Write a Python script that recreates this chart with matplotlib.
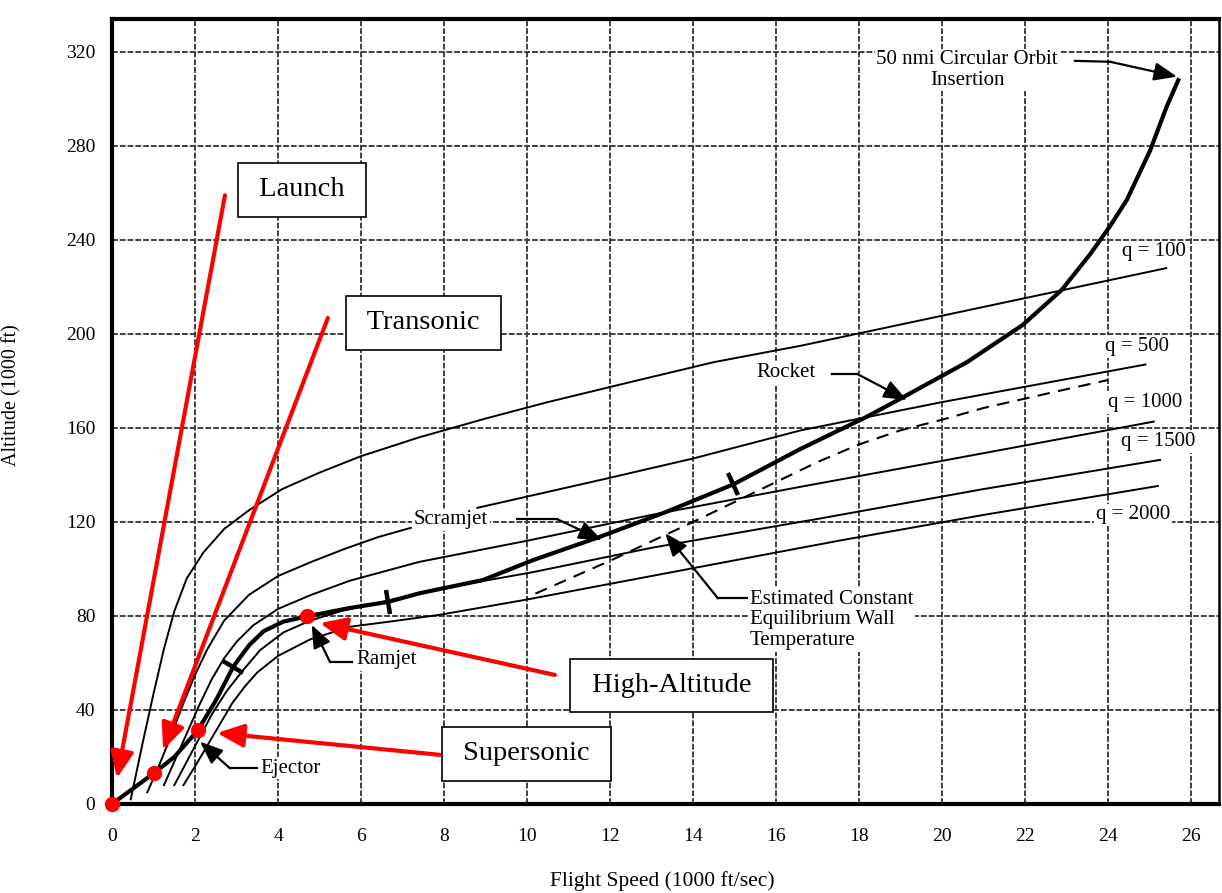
import numpy as np
import matplotlib
matplotlib.use("Agg")
import matplotlib.pyplot as plt
from matplotlib.markers import MarkerStyle
from matplotlib.transforms import Affine2D

plt.rcParams['font.family'] = ['Liberation Serif', 'DejaVu Serif']

# dynamic pressure lines (psf), speed in 1000 ft/s, altitude in 1000 ft
q100_x = [0.45, 0.75, 1.0, 1.25, 1.5, 1.8, 2.2, 2.7, 3.3, 4.1, 5.0, 6.0, 7.4, 9.0, 10.5, 12.6, 14.5, 16.6, 19.0, 21.0, 23.0, 25.4]
q100_y = [2, 27, 47, 66, 82, 96, 107, 117, 125, 134, 141, 148, 156, 164, 171, 180, 188, 195, 204, 211.5, 219, 228]

q500_x = [0.85, 1.1, 1.4, 1.7, 2.0, 2.3, 2.7, 3.3, 4.0, 4.8, 5.6, 6.4, 7.2]
q500_y = [5, 15, 28, 42, 55, 66, 78, 89, 97, 103, 108.5, 113.5, 117.5]
q500b_x = [8.8, 11.8, 14.0, 16.6, 20.0, 24.9]
q500b_y = [126, 138, 147, 159, 171, 187]

q1000_x = [1.25, 1.5, 1.8, 2.1, 2.4, 2.7, 3.0, 3.4, 4.0, 4.8, 5.73, 7.4, 10.0, 13.0, 16.6, 20.0, 25.1]
q1000_y = [8, 18, 30, 42, 53, 62, 69, 76, 83, 89, 95, 103, 112, 123, 135, 146, 162.7]

q1500_x = [1.5, 1.8, 2.1, 2.4, 2.76, 3.16, 3.57, 4.13, 4.77, 5.5, 6.65, 7.4, 8.5, 10.1, 13.0, 17.1, 21.0, 25.25]
q1500_y = [8, 18, 28, 38, 48, 57, 65.5, 73, 78, 82, 86.5, 89.7, 93.5, 98.5, 109, 121.6, 134, 146.4]

q2000_x = [1.72, 2.0, 2.3, 2.6, 2.9, 3.2, 3.5, 4.0, 4.77, 5.73, 6.78, 7.9, 10.0, 13.0, 16.6, 17.6, 21.0, 25.2]
q2000_y = [8, 16, 25, 34, 43, 50, 56, 63, 70, 75.4, 77.8, 80.5, 87, 97, 109, 112.3, 123, 135.3]

q_labels = ['q = 100', 'q = 500', 'q = 1000', 'q = 1500', 'q = 2000']
q_label_x = [25.1, 24.7, 24.9, 25.2, 24.6]
q_label_y = [235, 194.6, 170.8, 154.2, 123]

# ascent trajectory
traj_x = [0, 0.5, 1.0, 1.5, 2.06, 2.5, 2.92, 3.3, 3.65, 4.13, 4.69, 5.7, 6.65, 7.42, 8.94, 10.15,
          11.76, 13.37, 14.97, 16.58, 18.19, 19.0, 20.6, 21.94, 22.88, 23.57, 24.05, 24.45, 25.01, 25.41, 25.69]
traj_y = [0, 6.5, 13, 20, 31.2, 44, 58.4, 67.5, 73.5, 77.6, 79.8, 83.3, 86, 89.7, 95.3, 103.8,
          113.7, 124.4, 136, 151, 164.8, 172.5, 188, 203.8, 218.7, 234, 246, 257, 278, 296.7, 308]
traj_ticks_x = [2.92, 6.65, 14.97]

# estimated constant equilibrium wall temperature
wall_x = [10.2, 12.0, 14.0, 15.0, 16.0, 17.0, 18.0, 19.0, 20.0, 21.0, 22.0, 23.0, 24.0]
wall_y = [89.5, 103.5, 120, 128.5, 137, 145.5, 153, 159, 163.5, 168.5, 172.5, 176.5, 180.4]

# highlighted flight phases
phase_names = ['Launch', 'Transonic', 'Supersonic', 'High-Altitude']
phase_x = [0, 1.0, 2.07, 4.7]
phase_y = [0, 13, 31.5, 80]
phase_box_x = [4.58, 7.5, 9.99, 13.48]
phase_box_y = [261.3, 204.7, 21.3, 50.4]
phase_arrow_x = [2.72, 5.2, 7.9, 10.67]
phase_arrow_y = [259, 206.8, 20.9, 54.9]
phase_tip_x = [0.12, 1.23, 2.53, 5.01]
phase_tip_y = [11, 23, 30.2, 77]

fig = plt.figure(figsize=(12.22, 8.93), dpi=100)
ax = fig.add_axes([0.0917, 0.0997, 0.9058, 0.879])
ax.set_xlim(0, 26.67)
ax.set_ylim(0, 334)

ax.set_xticks(range(0, 27, 2))
ax.set_yticks(range(0, 321, 40))
ax.grid(True, color='0.25', lw=1.4, ls=(0, (3, 1)))
ax.tick_params(length=0, labelsize=14)
ax.tick_params(axis='x', pad=17)
ax.tick_params(axis='y', pad=12)
for s in ['left', 'bottom', 'top']:
    ax.spines[s].set_linewidth(3)
ax.spines['right'].set_linewidth(1.8)

ax.set_xlabel('Flight Speed (1000 ft/sec)', fontsize=15.5)
ax.xaxis.set_label_coords(0.497, -0.085)
ax.set_ylabel('Altitude (1000 ft)', fontsize=14.5)
ax.yaxis.set_label_coords(-0.082, 0.521)

thin = dict(color='black', lw=1.4)
ax.plot(q100_x, q100_y, **thin)
ax.plot(q500_x, q500_y, **thin)
ax.plot(q500b_x, q500b_y, **thin)
ax.plot(q1000_x, q1000_y, **thin)
ax.plot(q1500_x, q1500_y, **thin)
ax.plot(q2000_x, q2000_y, **thin)
ax.plot(wall_x, wall_y, color='black', lw=1.5, ls=(0, (6, 4)))
ax.plot(traj_x, traj_y, color='black', lw=3)

white = dict(boxstyle='square,pad=0.08', fc='white', ec='none')
for lab, lx, ly in zip(q_labels, q_label_x, q_label_y):
    ax.text(lx, ly, lab, fontsize=15, ha='center', va='center', bbox=white, zorder=4)

# short bars across the trajectory where the propulsion mode changes
for tx in traj_ticks_x:
    ty = np.interp(tx, traj_x, traj_y)
    p0 = ax.transData.transform((tx - 0.2, np.interp(tx - 0.2, traj_x, traj_y)))
    p1 = ax.transData.transform((tx + 0.2, np.interp(tx + 0.2, traj_x, traj_y)))
    ang = np.degrees(np.arctan2(p1[1] - p0[1], p1[0] - p0[0]))
    m = MarkerStyle('|', transform=Affine2D().rotate_deg(ang))
    ax.plot([tx], [ty], marker=m, ms=17, mew=3.2, color='black')

black_arrow = dict(arrowstyle='-|>,head_length=0.7,head_width=0.28', color='black', lw=1.6,
                   mutation_scale=20, shrinkA=0, shrinkB=0)

def callout(text, xy, xytext, bend, ha='center'):
    # label with a leader: horizontal run to a bend, then arrow to the point
    ax.text(xytext[0], xytext[1], text, fontsize=15, ha=ha, va='center', linespacing=1.1,
            bbox=white, zorder=4)
    ax.plot([bend[0][0], bend[1][0]], [bend[0][1], bend[1][1]], color='black', lw=1.6)
    ax.annotate('', xy=xy, xytext=bend[1], arrowprops=black_arrow)

callout('50 nmi Circular Orbit\nInsertion', (25.66, 309.5), (20.6, 312.3),
        ((23.2, 316.2), (24.05, 315.8)))
callout('Rocket', (19.15, 171.9), (16.25, 183.4), ((17.35, 183.0), (17.95, 183.0)))
callout('Scramjet', (11.8, 112.3), (8.17, 120.9), ((9.75, 121.3), (10.71, 121.3)))
callout('Ramjet', (4.81, 76.2), (6.62, 61.3), ((5.78, 60.5), (5.25, 60.5)))
callout('Ejector', (2.12, 26.5), (4.3, 15.2), ((3.49, 15.2), (2.84, 15.2)))
callout('Estimated Constant\nEquilibrium Wall\nTemperature', (13.33, 115.2), (15.37, 78.3),
        ((15.29, 87.5), (14.6, 87.5)), ha='left')

red_arrow = dict(arrowstyle='-|>,head_length=0.8,head_width=0.35', color='red', lw=3,
                 mutation_scale=20, shrinkA=0, shrinkB=0)
for name, bx, by, ax0, ay0, tx, ty in zip(phase_names, phase_box_x, phase_box_y,
                                          phase_arrow_x, phase_arrow_y, phase_tip_x, phase_tip_y):
    ax.annotate('', xy=(tx, ty), xytext=(ax0, ay0), arrowprops=red_arrow, zorder=5)
    ax.text(bx, by, ' ' + name + ' ', fontsize=20.5, ha='center', va='center', zorder=6,
            bbox=dict(boxstyle='square,pad=0.5', fc='white', ec='black', lw=1.2))

ax.plot(phase_x, phase_y, 'o', color='red', ms=10, zorder=7, clip_on=False)

fig.savefig('out.png', dpi=100)
